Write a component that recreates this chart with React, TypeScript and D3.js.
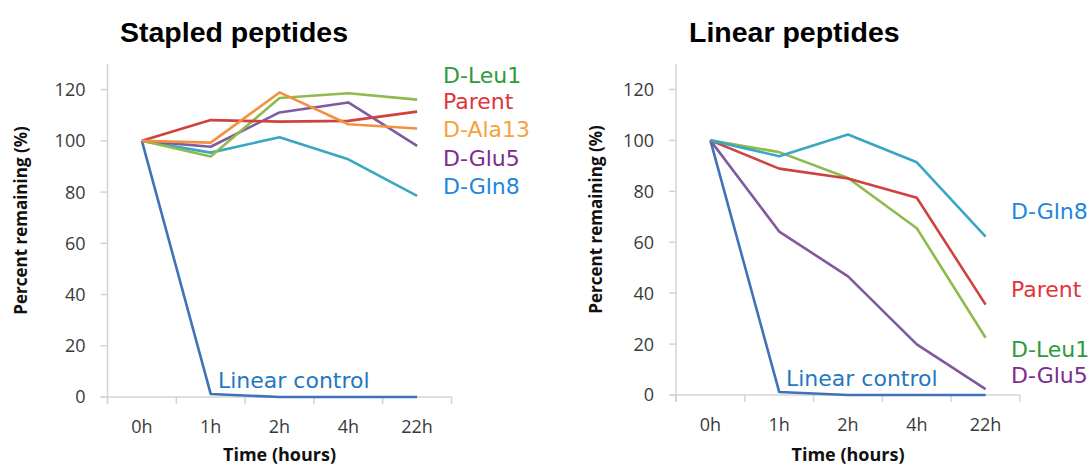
import { useEffect, useRef } from "react";
import * as d3 from "d3";

const times = ["0h", "1h", "2h", "4h", "22h"];
const yTicks = [0, 20, 40, 60, 80, 100, 120];

// Stapled peptides (% remaining)
const stapledParent = [100, 108.1, 107.5, 107.8, 111.4];
const stapledLeu1 = [100, 93.9, 116.7, 118.6, 116.1];
const stapledAla13 = [100, 99.3, 118.9, 106.5, 104.8];
const stapledGlu5 = [100, 97.7, 111.1, 115, 98];
const stapledGln8 = [100, 95.4, 101.4, 92.8, 78.5];
const stapledControl = [100, 1.2, 0, 0, 0];

// Linear peptides (% remaining)
const linearParent = [100, 88.9, 85, 77.5, 35.5];
const linearLeu1 = [100, 95.4, 85.2, 65.5, 22.5];
const linearGlu5 = [100, 64.2, 46.6, 19.9, 2.3];
const linearGln8 = [100, 93.8, 102.3, 91.4, 62.2];
const linearControl = [100, 1.2, 0, 0, 0];

const lineColor: Record<string, string> = {
  control: "#3f72b6",
  parent: "#cf423d",
  leu1: "#8fba4e",
  ala13: "#f39140",
  glu5: "#7f5a9f",
  gln8: "#3aa7c2",
};
const textColor: Record<string, string> = {
  control: "#1f78c1",
  parent: "#e0343c",
  leu1: "#2e9a3c",
  ala13: "#f6a23e",
  glu5: "#7d2c8f",
  gln8: "#1c86df",
};

interface Series { key: string; values: number[] }
interface Panel {
  title: string;
  yLabel: string;
  x0: number;
  x1: number;
  yBottom: number;
  series: Series[];
  labels: { key: string; text: string; x: number; y: number }[];
}

const panels: Panel[] = [
  {
    title: "Stapled peptides",
    yLabel: "Percent remaining (%)",
    x0: 107.5,
    x1: 451.5,
    yBottom: 397,
    series: [
      { key: "control", values: stapledControl },
      { key: "gln8", values: stapledGln8 },
      { key: "glu5", values: stapledGlu5 },
      { key: "leu1", values: stapledLeu1 },
      { key: "parent", values: stapledParent },
      { key: "ala13", values: stapledAla13 },
    ],
    labels: [
      { key: "leu1", text: "D-Leu1", x: 443, y: 83 },
      { key: "parent", text: "Parent", x: 443, y: 109 },
      { key: "ala13", text: "D-Ala13", x: 443, y: 137 },
      { key: "glu5", text: "D-Glu5", x: 443, y: 166 },
      { key: "gln8", text: "D-Gln8", x: 443, y: 194 },
      { key: "control", text: "Linear control", x: 218, y: 388 },
    ],
  },
  {
    title: "Linear peptides",
    yLabel: "Percent remaining  (%)",
    x0: 676,
    x1: 1020,
    yBottom: 395,
    series: [
      { key: "control", values: linearControl },
      { key: "glu5", values: linearGlu5 },
      { key: "leu1", values: linearLeu1 },
      { key: "parent", values: linearParent },
      { key: "gln8", values: linearGln8 },
    ],
    labels: [
      { key: "gln8", text: "D-Gln8", x: 1011, y: 219 },
      { key: "parent", text: "Parent", x: 1011, y: 297 },
      { key: "leu1", text: "D-Leu1", x: 1011, y: 357 },
      { key: "glu5", text: "D-Glu5", x: 1011, y: 383 },
      { key: "control", text: "Linear control", x: 786, y: 386 },
    ],
  },
];

export default function App() {
  const svgRef = useRef<SVGSVGElement>(null);

  useEffect(() => {
    if (!svgRef.current) return;
    const svg = d3.select(svgRef.current);
    svg.selectAll("*").remove();

    const top = 64;
    const tickFont = "'Open Sans', sans-serif";

    panels.forEach((p, pi) => {
      const g = svg.append("g");
      const x = d3.scaleBand().domain(times).range([p.x0, p.x1]);
      const y = d3.scaleLinear().domain([0, 130]).range([p.yBottom, top]);

      // axes
      g.append("line").attr("x1", p.x0).attr("x2", p.x0).attr("y1", top).attr("y2", p.yBottom + 7)
        .attr("stroke", "#d4d4d4").attr("stroke-width", 1.5);
      g.append("line").attr("x1", p.x0 - 7).attr("x2", p.x1).attr("y1", p.yBottom).attr("y2", p.yBottom)
        .attr("stroke", "#d4d4d4").attr("stroke-width", 1.5);

      g.selectAll(".ytick").data(yTicks).enter().append("line")
        .attr("x1", p.x0 - 7).attr("x2", p.x0)
        .attr("y1", (d) => y(d)).attr("y2", (d) => y(d))
        .attr("stroke", "#d4d4d4").attr("stroke-width", 1.5);

      const bounds = times.map((t) => x(t) as number).concat([p.x1]);
      g.selectAll(".xtick").data(bounds).enter().append("line")
        .attr("x1", (d) => d).attr("x2", (d) => d)
        .attr("y1", p.yBottom).attr("y2", p.yBottom + 7)
        .attr("stroke", "#d4d4d4").attr("stroke-width", 1.5);

      g.selectAll(".ylab").data(yTicks).enter().append("text")
        .attr("x", p.x0 - 22).attr("y", (d) => y(d)).attr("dy", "0.36em")
        .attr("text-anchor", "end").attr("font-family", tickFont).attr("font-size", 18)
        .attr("fill", "#3a3a3a").text((d) => d);

      g.selectAll(".xlab").data(times).enter().append("text")
        .attr("x", (d) => (x(d) as number) + x.bandwidth() / 2).attr("y", p.yBottom + 36)
        .attr("text-anchor", "middle").attr("font-family", tickFont).attr("font-size", 18)
        .attr("fill", "#3a3a3a").text((d) => d);

      // axis titles
      g.append("text")
        .attr("x", (p.x0 + p.x1) / 2).attr("y", 461)
        .attr("text-anchor", "middle").attr("font-family", tickFont).attr("font-weight", "bold")
        .attr("font-size", 18).attr("fill", "#111").text("Time (hours)");

      const yTitleX = pi === 0 ? 27 : 602;
      g.append("text")
        .attr("transform", `translate(${yTitleX},${(top + p.yBottom) / 2 - 10}) rotate(-90)`)
        .attr("text-anchor", "middle").attr("font-family", tickFont).attr("font-weight", "bold")
        .attr("font-size", 17).attr("fill", "#111").text(p.yLabel);

      // chart title
      g.append("text")
        .attr("x", pi === 0 ? 120 : 689).attr("y", 42)
        .attr("font-family", "'Liberation Sans', Arial, sans-serif").attr("font-weight", "bold")
        .attr("font-size", 28.5).attr("fill", "#000").text(p.title);

      // lines
      const line = d3.line<number>()
        .x((_, i) => (x(times[i]) as number) + x.bandwidth() / 2)
        .y((d) => y(d));

      g.selectAll(".series").data(p.series).enter().append("path")
        .attr("d", (s) => line(s.values))
        .attr("fill", "none")
        .attr("stroke", (s) => lineColor[s.key])
        .attr("stroke-width", 2.6)
        .attr("stroke-linejoin", "round");

      // labels
      g.selectAll(".slab").data(p.labels).enter().append("text")
        .attr("x", (d) => d.x).attr("y", (d) => d.y)
        .attr("font-family", "'DejaVu Sans', sans-serif").attr("font-size", 22)
        .attr("fill", (d) => textColor[d.key]).text((d) => d.text);
    });
  }, []);

  return (
    <svg
      ref={svgRef}
      width={1092}
      height={468}
      style={{ position: "absolute", left: 0, top: 0, background: "#fff" }}
    />
  );
}
